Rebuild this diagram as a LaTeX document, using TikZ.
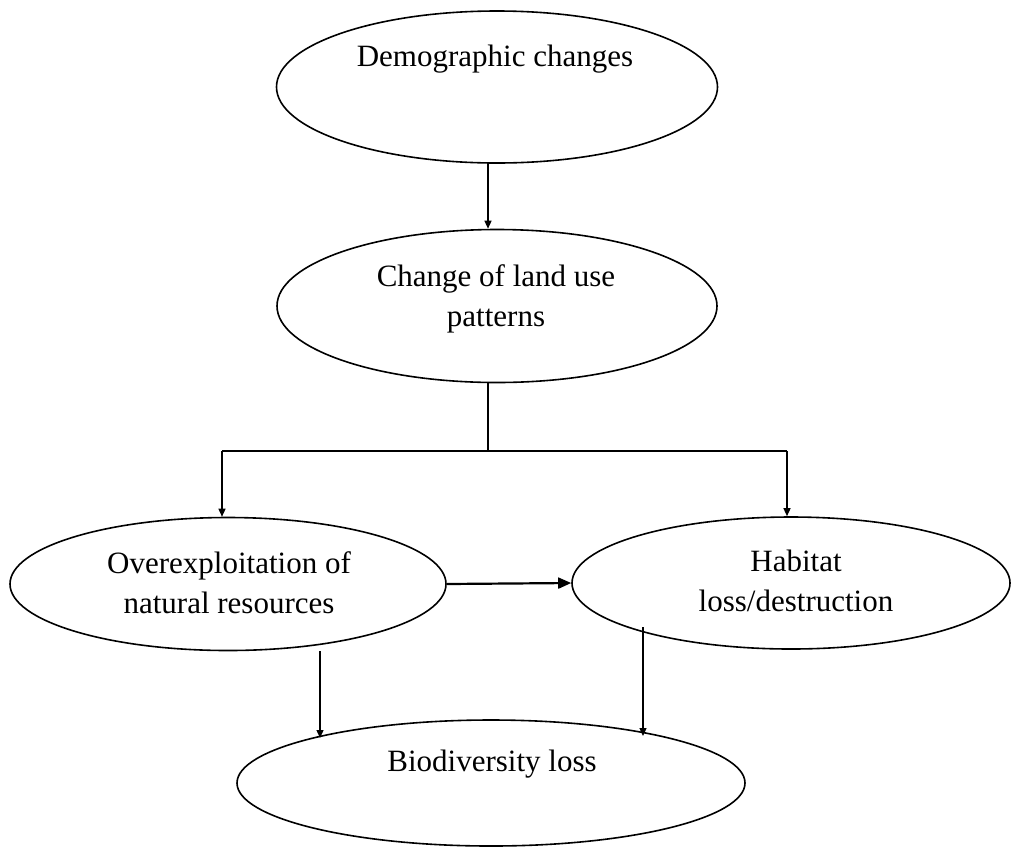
\documentclass[tikz,border=0pt]{standalone}
\usepackage{fontspec}
\setmainfont{Liberation Serif}
\usetikzlibrary{arrows.meta,shapes.geometric}
\begin{document}
\begin{tikzpicture}[x=1pt,y=-1pt,
  ell/.style={draw, ellipse, line width=1.6pt, inner sep=0pt},
  lbl/.style={align=center, font=\fontsize{31}{40}\selectfont, inner sep=0pt},
  conn/.style={line width=1.3pt},
  arr/.style={conn, -{Triangle[length=8pt,width=7pt]}},
  bigarr/.style={line width=2.2pt, -{Triangle[length=13pt,width=11pt]}}]
\useasboundingbox (0,0) rectangle (1011,847);
% ellipses
\node[ell, minimum width=441pt, minimum height=152pt] (e1) at (497,87) {};
\node[ell, minimum width=440pt, minimum height=153pt] (e2) at (497,306) {};
\node[ell, minimum width=436pt, minimum height=133pt] (e3) at (228,584) {};
\node[ell, minimum width=438pt, minimum height=132pt] (e4) at (791,583) {};
\node[ell, minimum width=508pt, minimum height=126pt] (e5) at (491,783) {};
% labels
\node[lbl] (t1) at (495,59) {Demographic changes};
\node[lbl] (t2) at (496,299) {Change of land use\\patterns};
\node[lbl] (t3) at (229,583) {Overexploitation of\\natural resources};
\node[lbl] (t4) at (796,581) {Habitat\\loss/destruction};
\node[lbl] (t5) at (492,764) {Biodiversity loss};
% connectors
\coordinate (a1) at (488,163);
\draw[arr] (a1) -- (a1 |- e2.north);
\coordinate (b) at (488,451);
\coordinate (bl) at (222,451);
\coordinate (br) at (787,451);
\draw[conn] (e2.south -| b) -- (b);
\draw[conn] (bl) -- (br);
\draw[arr] (bl) -- (bl |- e3.north);
\draw[arr] (br) -- (br |- e4.north);
\draw[bigarr] (e3.east) -- (e4.west);
\coordinate (l1) at (320,651);
\coordinate (l2) at (320,738);
\draw[arr] (l1) -- (l2);
\coordinate (r1) at (643,627);
\coordinate (r2) at (643,736);
\draw[arr] (r1) -- (r2);
\end{tikzpicture}
\end{document}
